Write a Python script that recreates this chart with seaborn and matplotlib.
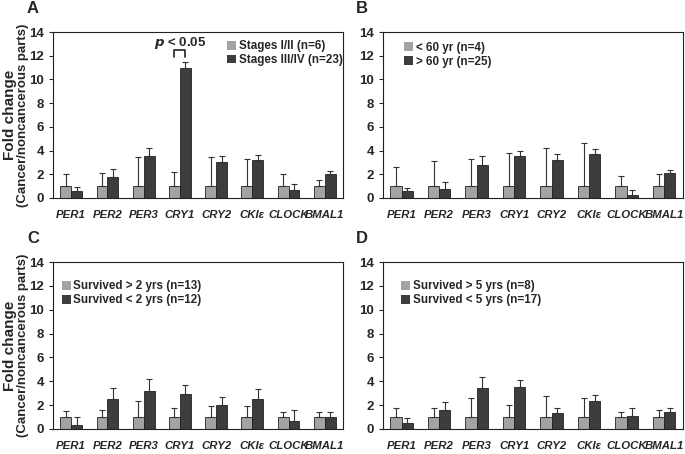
import matplotlib
matplotlib.use("Agg")
from matplotlib import pyplot as plt
from matplotlib.patches import Patch
import seaborn as sns
import pandas as pd

genes = ['PER1', 'PER2', 'PER3', 'CRY1', 'CRY2', 'CKIε', 'CLOCK', 'BMAL1']

# panel A - stages
a_light = [1, 1, 1, 1, 1, 1, 1, 1]
a_light_top = [2.0, 2.1, 3.45, 2.2, 3.45, 3.25, 2.0, 1.55]
a_dark = [0.55, 1.8, 3.5, 11.0, 3.05, 3.2, 0.65, 2.0]
a_dark_top = [0.9, 2.45, 4.2, 11.45, 3.55, 3.6, 1.2, 2.3]

# panel B - age
b_light = [1, 1, 1, 1, 1, 1, 1, 1]
b_light_top = [2.6, 3.1, 3.3, 3.8, 4.25, 4.6, 1.85, 2.0]
b_dark = [0.55, 0.8, 2.8, 3.5, 3.2, 3.7, 0.25, 2.1]
b_dark_top = [0.85, 1.35, 3.5, 3.95, 3.7, 4.1, 0.7, 2.35]

# panel C - 2 yr survival
c_light = [1, 1, 1, 1, 1, 1, 1, 1]
c_light_top = [1.5, 1.6, 2.35, 1.8, 1.9, 1.9, 1.4, 1.45]
c_dark = [0.35, 2.5, 3.15, 2.95, 2.0, 2.55, 0.65, 1.0]
c_dark_top = [1.0, 3.45, 4.2, 3.65, 2.65, 3.35, 1.6, 1.45]

# panel D - 5 yr survival
d_light = [1, 1, 1, 1, 1, 1, 1, 1]
d_light_top = [1.8, 1.8, 2.6, 2.0, 2.75, 2.6, 1.4, 1.6]
d_dark = [0.5, 1.6, 3.4, 3.5, 1.3, 2.35, 1.1, 1.4]
d_dark_top = [0.95, 2.3, 4.35, 4.1, 1.8, 2.85, 1.75, 1.8]

LIGHT = '#a3a3a3'
DARK = '#3d3d3d'

sns.set_style('white')
plt.rcParams['font.family'] = ['Liberation Sans Narrow', 'Liberation Sans', 'DejaVu Sans']
plt.rcParams['font.weight'] = 'bold'


def draw_panel(ax, light, light_top, dark, dark_top, labels, letter, legend_loc):
    df = pd.DataFrame({
        'gene': genes * 2,
        'grp': ['l'] * 8 + ['d'] * 8,
        'val': light + dark,
    })
    sns.barplot(data=df, x='gene', y='val', hue='grp', palette=[LIGHT, DARK],
                width=0.6, ax=ax, legend=False, edgecolor='#222222', linewidth=0.6,
                errorbar=None)
    # one-sided error bars
    bars = ax.patches[:16]
    tops = light_top + dark_top
    vals = light + dark
    for b, v, t in zip(bars, vals, tops):
        x = b.get_x() + b.get_width() / 2
        ax.errorbar(x, v, yerr=[[0], [t - v]], fmt='none', ecolor='#333333',
                    elinewidth=0.8, capsize=2.5, capthick=0.8)
    ax.set_ylim(0, 14)
    ax.set_xlim(-0.5, 7.5)
    ax.set_yticks(range(0, 15, 2))
    ax.set_xlabel('')
    ax.set_ylabel('')
    ax.tick_params(axis='y', direction='out', length=3, width=0.8, labelsize=9.5, left=True)
    ax.tick_params(axis='x', length=0, labelsize=8.2, pad=9)
    for lab in ax.get_yticklabels():
        lab.set_fontweight('bold')
    ax.set_xticks(range(8))
    ax.set_xticklabels(genes, fontweight='bold', fontstyle='italic')
    for s in ax.spines.values():
        s.set_visible(True)
        s.set_linewidth(0.8)
        s.set_color('#222222')
    handles = [Patch(facecolor=LIGHT, edgecolor='none'), Patch(facecolor=DARK, edgecolor='none')]
    ax.legend(handles, labels, frameon=False, handlelength=0.8, handleheight=0.8,
              handletextpad=0.2, labelspacing=0.15, borderaxespad=0.0, borderpad=0.0,
              prop={'weight': 'bold', 'size': 8.4}, **legend_loc)
    ax.text(-0.09, 1.14, letter, transform=ax.transAxes, fontsize=12,
            fontweight='bold', va='center', ha='left', family='Liberation Sans')


fig = plt.figure(figsize=(6.85, 4.54), dpi=100)
axA = fig.add_axes([0.0774, 0.5639, 0.4233, 0.3656])
axB = fig.add_axes([0.559, 0.5639, 0.438, 0.3656])
axC = fig.add_axes([0.0774, 0.0551, 0.4233, 0.3678])
axD = fig.add_axes([0.559, 0.0551, 0.438, 0.3678])

draw_panel(axA, a_light, a_light_top, a_dark, a_dark_top,
           ['Stages I/II (n=6)', 'Stages III/IV (n=23)'], 'A',
           dict(loc='upper left', bbox_to_anchor=(0.6, 0.95)))
draw_panel(axB, b_light, b_light_top, b_dark, b_dark_top,
           ['< 60 yr (n=4)', '> 60 yr (n=25)'], 'B',
           dict(loc='upper left', bbox_to_anchor=(0.07, 0.94)))
draw_panel(axC, c_light, c_light_top, c_dark, c_dark_top,
           ['Survived > 2 yrs (n=13)', 'Survived < 2 yrs (n=12)'], 'C',
           dict(loc='upper left', bbox_to_anchor=(0.03, 0.89)))
draw_panel(axD, d_light, d_light_top, d_dark, d_dark_top,
           ['Survived > 5 yrs (n=8)', 'Survived < 5 yrs (n=17)'], 'D',
           dict(loc='upper left', bbox_to_anchor=(0.06, 0.89)))

for ax in (axA, axC):
    ax.text(-0.148, 0.5, 'Fold change', transform=ax.transAxes, rotation=90,
            fontsize=11, fontweight='bold', va='center', ha='center',
            family='Liberation Sans')
    ax.text(-0.103, 0.5, '(Cancer/noncancerous parts)', transform=ax.transAxes,
            rotation=90, fontsize=9.5, fontweight='bold', va='center', ha='center')

# significance bracket on CRY1 in panel A
b1 = axA.patches[3]
b2 = axA.patches[11]
x1 = b1.get_x() + b1.get_width() / 2
x2 = b2.get_x() + b2.get_width() / 2
axA.plot([x1, x1, x2, x2], [11.9, 12.5, 12.5, 11.9], color='#222222', lw=1.2)
axA.text((x1 + x2) / 2, 13.1, r'$\it{p}$ < 0.05', ha='center', va='center',
         fontsize=9.5, fontweight='bold')

fig.savefig('out.png', dpi=100)
